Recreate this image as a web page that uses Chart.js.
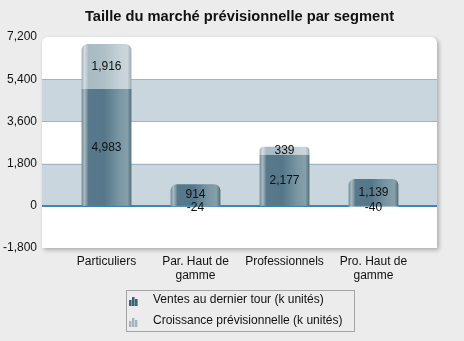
<!DOCTYPE html>
<html>
<head>
<meta charset="utf-8">
<script src="https://cdn.jsdelivr.net/npm/chart.js@4.4.1/dist/chart.umd.min.js"></script>
<style>
  html, body { margin: 0; padding: 0; background: #ececec; }
  #wrap { width: 464px; height: 341px; position: relative; }
</style>
</head>
<body>
<div id="wrap"><canvas id="chart"></canvas></div>
<script>
// --- Data ---
const segments = [['Particuliers'], ['Par. Haut de', 'gamme'], ['Professionnels'], ['Pro. Haut de', 'gamme']];
const lastRoundSales = [4983, 914, 2177, 1139];
const forecastGrowth = [1916, -24, 339, -40];
const yTicks = [-1800, 0, 1800, 3600, 5400, 7200];
const seriesNames = ['Ventes au dernier tour (k unités)', 'Croissance prévisionnelle (k unités)'];
const chartTitle = 'Taille du marché prévisionnelle par segment';

// --- Look ---
const FONT = '"Liberation Sans", Arial, sans-serif';
const BAR_PCT = 0.56;
const FRAME = { left: 42, right: 437, top: 37, bottom: 248 };

const darkStops = [
  [0, '#6f8c98'], [0.06, '#a7bac2'], [0.14, '#58798a'], [0.45, '#55778a'],
  [0.75, '#7896a3'], [0.92, '#86a0ab'], [1, '#4f6c7a']
];
const lightStops = [
  [0, '#9aafb8'], [0.06, '#d3dde2'], [0.14, '#a8bac2'], [0.45, '#aebfc7'],
  [0.75, '#c4d1d7'], [0.92, '#cbd6db'], [1, '#98aab3']
];

function barFill(stops) {
  return (ctx) => {
    const chart = ctx.chart;
    const xs = chart.scales.x;
    if (!chart.chartArea || !xs) return stops[3][1];
    const cx = xs.getPixelForValue(ctx.dataIndex);
    const half = xs.width / segments.length * BAR_PCT / 2;
    const g = chart.ctx.createLinearGradient(cx - half, 0, cx + half, 0);
    stops.forEach(([o, c]) => g.addColorStop(o, c));
    return g;
  };
}

const fmt = (v) => v.toLocaleString('en-US');

// white panel with blue bands behind the bars
const panel = {
  id: 'panel',
  beforeDatasetsDraw(chart) {
    const { ctx, scales: { y } } = chart;
    const w = FRAME.right - FRAME.left;
    ctx.save();
    ctx.shadowColor = 'rgba(0,0,0,0.28)';
    ctx.shadowBlur = 4;
    ctx.shadowOffsetX = 2;
    ctx.shadowOffsetY = 2;
    ctx.fillStyle = '#ffffff';
    ctx.beginPath();
    ctx.roundRect(FRAME.left, FRAME.top, w, FRAME.bottom - FRAME.top, [6, 6, 0, 0]);
    ctx.fill();
    ctx.restore();

    ctx.save();
    ctx.fillStyle = '#c9d6de';
    [[5400, 3600], [1800, 0]].forEach(([a, b]) => {
      const ya = y.getPixelForValue(a), yb = y.getPixelForValue(b);
      ctx.fillRect(FRAME.left, ya, w, yb - ya);
    });
    ctx.strokeStyle = '#9fb5c3';
    ctx.lineWidth = 1;
    [5400, 3600, 1800].forEach((v) => {
      const yy = Math.round(y.getPixelForValue(v)) + 0.5;
      ctx.beginPath();
      ctx.moveTo(FRAME.left, yy);
      ctx.lineTo(FRAME.right, yy);
      ctx.stroke();
    });
    ctx.strokeStyle = '#3a87b8';
    ctx.lineWidth = 2;
    const y0 = Math.round(y.getPixelForValue(0));
    ctx.beginPath();
    ctx.moveTo(FRAME.left, y0);
    ctx.lineTo(FRAME.right, y0);
    ctx.stroke();
    ctx.restore();
  }
};

// value text in the middle of each segment
const valueLabels = {
  id: 'valueLabels',
  afterDatasetsDraw(chart) {
    const { ctx } = chart;
    ctx.save();
    ctx.font = '12px ' + FONT;
    ctx.fillStyle = '#111';
    ctx.textAlign = 'center';
    ctx.textBaseline = 'middle';
    chart.data.datasets.forEach((ds, di) => {
      chart.getDatasetMeta(di).data.forEach((bar, i) => {
        const p = bar.getProps(['x', 'y', 'base'], true);
        let yy = (p.y + p.base) / 2;
        if (ds.data[i] < 0) yy += 1.5;
        ctx.fillText(fmt(ds.data[i]), p.x, yy);
      });
    });
    ctx.restore();
  }
};

// small three-bar glyph used in the legend
function drawIcon(ctx, x, y, colors) {
  const bars = [[0, 6], [3, 9], [6, 7]];
  bars.forEach(([dx, h]) => {
    ctx.fillStyle = colors[0];
    ctx.fillRect(x + dx, y + 9 - h, 3, h);
    ctx.fillStyle = colors[1];
    ctx.fillRect(x + dx + 2, y + 9 - h, 1, h);
  });
}

const decor = {
  id: 'decor',
  afterDraw(chart) {
    const { ctx } = chart;
    ctx.save();
    ctx.fillStyle = '#111';
    ctx.font = 'bold 14.7px ' + FONT;
    ctx.textAlign = 'center';
    ctx.textBaseline = 'middle';
    ctx.fillText(chartTitle, (FRAME.left + FRAME.right) / 2, 17);

    ctx.strokeStyle = '#a4a4a4';
    ctx.lineWidth = 1;
    ctx.strokeRect(126.5, 290.5, 228, 41);
    drawIcon(ctx, 129, 297, ['#3a6474', '#7e9daa']);
    drawIcon(ctx, 129, 318, ['#a2b5be', '#cbd7dc']);
    ctx.font = '12px ' + FONT;
    ctx.textAlign = 'left';
    ctx.fillStyle = '#111';
    ctx.fillText(seriesNames[0], 153, 300);
    ctx.fillText(seriesNames[1], 153, 321);
    ctx.restore();
  }
};

new Chart(document.getElementById('chart'), {
  type: 'bar',
  data: {
    labels: segments,
    datasets: [
      {
        label: seriesNames[0],
        data: lastRoundSales,
        backgroundColor: barFill(darkStops),
        borderRadius: (ctx) => forecastGrowth[ctx.dataIndex] > 0 ? 0 : { topLeft: 6, topRight: 6, bottomLeft: 0, bottomRight: 0 },
        borderSkipped: false
      },
      {
        label: seriesNames[1],
        data: forecastGrowth,
        backgroundColor: barFill(lightStops),
        borderRadius: (ctx) => forecastGrowth[ctx.dataIndex] > 0 ? { topLeft: 6, topRight: 6, bottomLeft: 0, bottomRight: 0 } : 0,
        borderSkipped: false
      }
    ]
  },
  options: {
    responsive: true,
    maintainAspectRatio: false,
    animation: false,
    layout: { padding: { top: 37, right: 46, bottom: 0, left: 0 } },
    datasets: { bar: { barPercentage: BAR_PCT, categoryPercentage: 1 } },
    plugins: {
      legend: { display: false },
      tooltip: { enabled: false },
      title: { display: false }
    },
    scales: {
      x: {
        stacked: true,
        grid: { display: false, drawTicks: false },
        border: { display: false },
        ticks: { color: '#111', font: { family: FONT, size: 12 }, padding: 6, maxRotation: 0, autoSkip: false },
        afterFit: (s) => { s.height = 93; }
      },
      y: {
        stacked: true,
        min: -1800,
        max: 7200,
        afterBuildTicks: (s) => { s.ticks = yTicks.map((v) => ({ value: v })); },
        grid: { display: false, drawTicks: false },
        border: { display: false },
        ticks: { color: '#111', font: { family: FONT, size: 12 }, padding: 25, callback: (v) => fmt(v) },
        afterFit: (s) => { s.width = 62; }
      }
    }
  },
  plugins: [panel, valueLabels, decor]
});
</script>
</body>
</html>
